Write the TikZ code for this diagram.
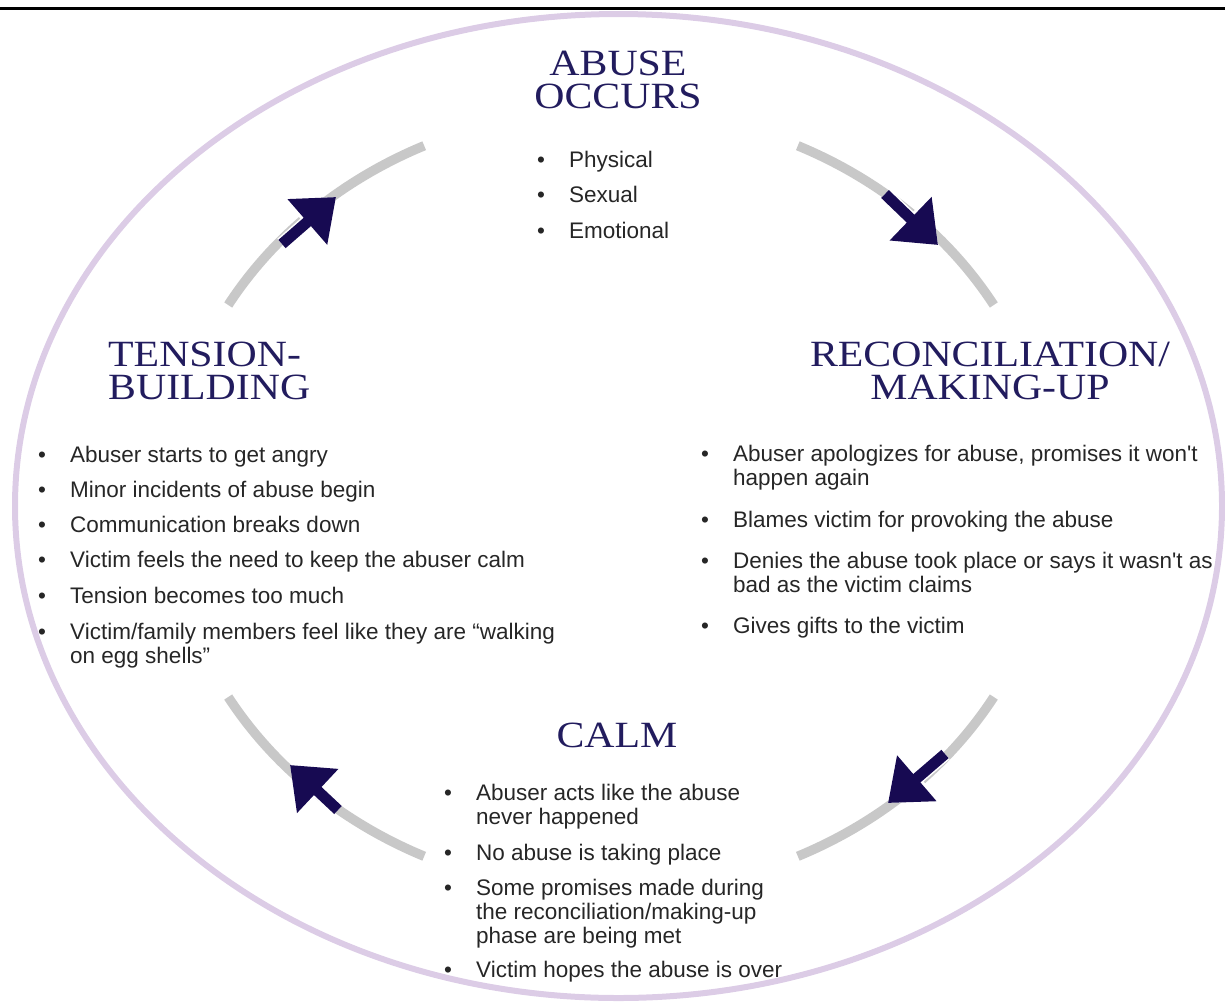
\documentclass[tikz,border=0pt]{standalone}
\usepackage{fontspec}
\usetikzlibrary{arrows.meta}
\newfontfamily\bodyfont{Liberation Sans}
\newfontfamily\headfont[FakeStretch=1.13]{Liberation Serif}
\definecolor{headblue}{HTML}{221C5E}
\definecolor{arrowblue}{HTML}{170A52}
\definecolor{arcgray}{HTML}{C8C8C8}
\definecolor{lavender}{HTML}{DCCCE6}
\definecolor{textgray}{HTML}{262626}
\tikzset{
  heading/.style={font=\headfont\fontsize{37}{33}\selectfont, text=headblue, inner sep=0, anchor=base, align=center},
  txt/.style={font=\bodyfont\fontsize{22.5}{24}\selectfont, text=textgray, inner sep=0, anchor=base west},
  bul/.style={font=\bodyfont\fontsize{22.5}{24}\selectfont, text=textgray, inner sep=0, anchor=base},
  cyclearc/.style={draw=arcgray, line width=9.5pt},
  bigarrow/.style={draw=arrowblue, line width=11pt, -{Triangle[length=38pt,width=58pt]}},
}
\begin{document}
\begin{tikzpicture}[x=1pt,y=-1pt]
\useasboundingbox (0,0) rectangle (1225,1002);
% top rule
\draw[line width=3.5pt] (0,8.5) -- (1225,8.5);
% outer lavender ellipse
\draw[lavender, line width=6pt] (618.5,506) ellipse [x radius=603.5, y radius=492];
% gray cycle arcs (ellipse centre 611,501; radii 442, 392)
\coordinate (cc) at (611,501);
\draw[cyclearc] (cc) ++(115:442 and -392) arc [start angle=115, end angle=150, x radius=442, y radius=-392];
\draw[cyclearc] (cc) ++(30:442 and -392) arc [start angle=30, end angle=65, x radius=442, y radius=-392];
\draw[cyclearc] (cc) ++(210:442 and -392) arc [start angle=210, end angle=245, x radius=442, y radius=-392];
\draw[cyclearc] (cc) ++(295:442 and -392) arc [start angle=295, end angle=330, x radius=442, y radius=-392];
% arrows
\coordinate (tlS) at (282,244); \coordinate (tlT) at (336,197);
\coordinate (trS) at (885,194); \coordinate (trT) at (938,245);
\coordinate (brS) at (945,754); \coordinate (brT) at (888,803);
\coordinate (blS) at (338,810); \coordinate (blT) at (290,765);
\foreach \s/\t in {tlS/tlT, trS/trT, brS/brT, blS/blT}{
  \draw[draw=white, line width=14pt, -{Triangle[length=41pt,width=63pt]}] (\s) -- (\t);
  \draw[bigarrow] (\s) -- (\t);
}
% headings (anchor base = baseline of the last line)
\node[heading] (h1) at (618,108) {ABUSE\\OCCURS};
\node[heading, anchor=base west, align=left] (h2) at (108,399) {TENSION-\\BUILDING};
\node[heading] (h3) at (990,399) {RECONCILIATION/\\MAKING-UP};
\node[heading] (h4) at (617,747) {CALM};
% top list
\node[bul] (b1) at (541,167) {•}; \node[txt] (t1) at (569,167) {Physical};
\node[bul] (b2) at (541,202) {•}; \node[txt] (t2) at (569,202) {Sexual};
\node[bul] (b3) at (541,238) {•}; \node[txt] (t3) at (569,238) {Emotional};
% left list
\node[bul] (l1b) at (42,462) {•}; \node[txt] (l1) at (70,462) {Abuser starts to get angry};
\node[bul] (l2b) at (42,497) {•}; \node[txt] (l2) at (70,497) {Minor incidents of abuse begin};
\node[bul] (l3b) at (42,532) {•}; \node[txt] (l3) at (70,532) {Communication breaks down};
\node[bul] (l4b) at (42,567) {•}; \node[txt] (l4) at (70,567) {Victim feels the need to keep the abuser calm};
\node[bul] (l5b) at (42,603) {•}; \node[txt] (l5) at (70,603) {Tension becomes too much};
\node[bul] (l6b) at (42,639) {•}; \node[txt] (l6) at (70,639) {Victim/family members feel like they are “walking};
\node[txt] (l6c) at (70,663) {on egg shells”};
% right list
\node[bul] (r1b) at (705,461) {•}; \node[txt] (r1) at (733,461) {Abuser apologizes for abuse, promises it won't};
\node[txt] (r1c) at (733,485) {happen again};
\node[bul] (r2b) at (705,527) {•}; \node[txt] (r2) at (733,527) {Blames victim for provoking the abuse};
\node[bul] (r3b) at (705,568) {•}; \node[txt] (r3) at (733,568) {Denies the abuse took place or says it wasn't as};
\node[txt] (r3c) at (733,592) {bad as the victim claims};
\node[bul] (r4b) at (705,633) {•}; \node[txt] (r4) at (733,633) {Gives gifts to the victim};
% bottom list
\node[bul] (c1b) at (448,800) {•}; \node[txt] (c1) at (476,800) {Abuser acts like the abuse};
\node[txt] (c1c) at (476,824) {never happened};
\node[bul] (c2b) at (448,860) {•}; \node[txt] (c2) at (476,860) {No abuse is taking place};
\node[bul] (c3b) at (448,895) {•}; \node[txt] (c3) at (476,895) {Some promises made during};
\node[txt] (c3c) at (476,919) {the reconciliation/making-up};
\node[txt] (c3d) at (476,943) {phase are being met};
\node[bul] (c4b) at (448,977) {•}; \node[txt] (c4) at (476,977) {Victim hopes the abuse is over};
\end{tikzpicture}
\end{document}
